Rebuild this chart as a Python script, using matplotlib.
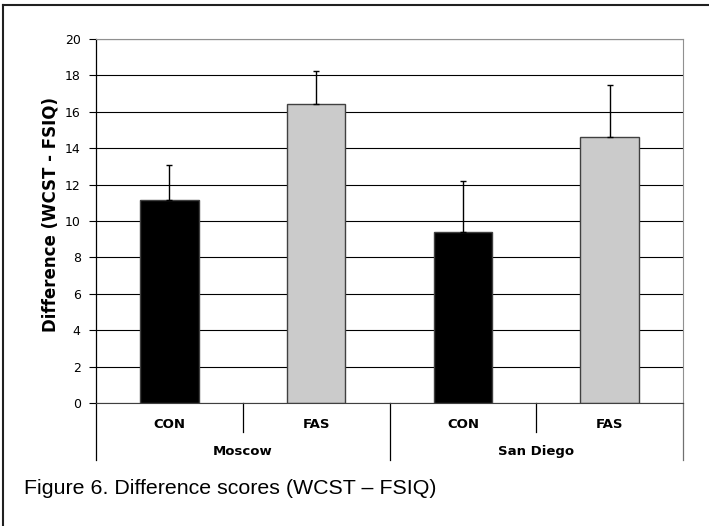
import numpy as np
import matplotlib.pyplot as plt
from matplotlib.lines import Line2D
import matplotlib.transforms as mtransforms

# mean difference scores and upper error bars
groups = ['CON', 'FAS', 'CON', 'FAS']
sites = ['Moscow', 'San Diego']
means = [11.15, 16.45, 9.4, 14.63]
err_up = [1.93, 1.79, 2.8, 2.82]
bar_colors = ['black', '#cbcbcb', 'black', '#cbcbcb']
yticks = np.arange(0, 21, 2)

W, H = 709, 526
fig = plt.figure(figsize=(W / 100, H / 100), dpi=100)
ax = fig.add_axes([96 / W, 1 - 403 / H, (683 - 96) / W, (403 - 39) / H])

x = np.arange(len(means))
ax.set_axisbelow(True)
ax.yaxis.grid(True, color='black', lw=0.8)
ax.bar(x, means, width=0.4, color=bar_colors, edgecolor='#404040', lw=1, zorder=2)
ax.errorbar(x, means, yerr=[np.zeros(len(means)), err_up], fmt='none',
            ecolor='black', elinewidth=1, capsize=2.5, capthick=1, zorder=3)

ax.set_xlim(-0.5, len(means) - 0.5)
ax.set_ylim(0, 20)
ax.set_yticks(yticks)
ax.tick_params(axis='y', direction='out', length=5, width=0.8, pad=6,
               labelsize=9, colors='black')
ax.tick_params(axis='x', bottom=False, labelbottom=False)

for s in ['top', 'right']:
    ax.spines[s].set_color('#909090')
ax.spines['left'].set_linewidth(0.9)
ax.spines['bottom'].set_color('#404040')

fig.text(51 / W, 1 - 214 / H, 'Difference (WCST - FSIQ)', rotation=90,
         fontsize=12, fontweight='bold', ha='center', va='center')

# two-level category axis below the plot
trans = mtransforms.blended_transform_factory(ax.transData, ax.transAxes)
ax_h = 403 - 39
for i, g in enumerate(groups):
    ax.text(i, -21 / ax_h, g, transform=trans, ha='center', va='center',
            fontsize=9.5, fontweight='bold')
for j, s in enumerate(sites):
    ax.text(2 * j + 0.5, -48.5 / ax_h, s, transform=trans, ha='center', va='center',
            fontsize=9.5, fontweight='bold')
for b in [0.5, 2.5]:
    ax.plot([b, b], [0, -29 / ax_h], transform=trans, color='black', lw=0.9, clip_on=False)
for b, c in [(-0.5, 'black'), (1.5, 'black'), (3.5, '#707070')]:
    ax.plot([b, b], [0, -57 / ax_h], transform=trans, color=c, lw=0.9, clip_on=False)

fig.text(24 / W, 1 - 494 / H, 'Figure 6. Difference scores (WCST \u2013 FSIQ)',
         fontsize=15.4, family='Liberation Sans', va='baseline', ha='left')

# frame lines at the top and left edge of the page
fig.add_artist(Line2D([3 / W, 3 / W], [0, 1 - 5 / H], color='#202020', lw=1.5,
                      transform=fig.transFigure))
fig.add_artist(Line2D([3 / W, 1], [1 - 5 / H, 1 - 5 / H], color='#202020', lw=1.5,
                      transform=fig.transFigure))

fig.savefig('out.png', dpi=100)
